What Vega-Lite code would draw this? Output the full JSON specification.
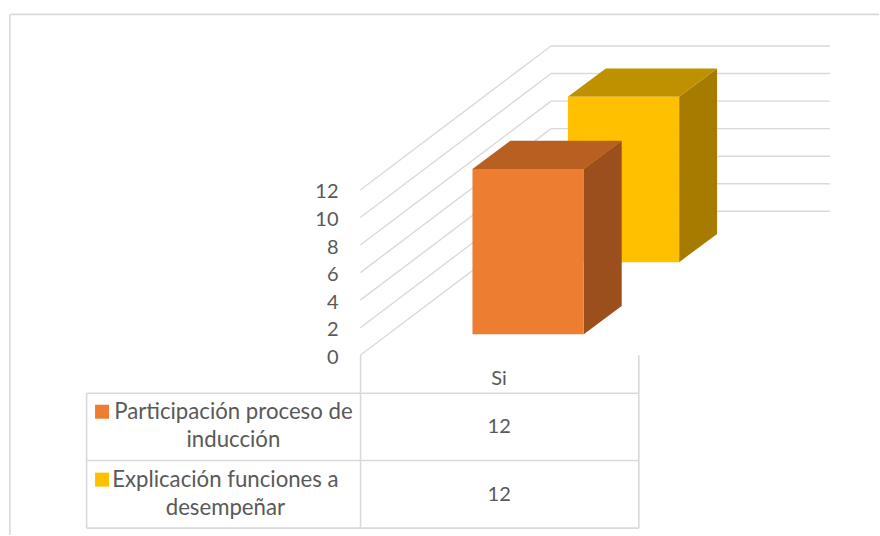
{
"$schema":"https://vega.github.io/schema/vega-lite/v6.json",
"width":880,"height":536,"padding":0,
"autosize":{"type":"fit","contains":"padding"},
"background":"white",
"config":{"view":{"stroke":null},"text":{"font":"Lato"}},
"datasets":{
"barras":[
{"serie":"Participación proceso de\ninducción","categoria":"Si","valor":12,"orden":0},
{"serie":"Explicación funciones a\ndesempeñar","categoria":"Si","valor":12,"orden":1}],
"marcas":[{"tick":0},{"tick":2},{"tick":4},{"tick":6},{"tick":8},{"tick":10},{"tick":12}],
"tablaH":[{"a":-0.9856,"b":1.003,"y":-2.76},{"a":-0.9856,"b":1.003,"y":-7.64},{"a":-0.9856,"b":1.003,"y":-12.55},{"a":-1.259,"b":1.868,"y":24.75}],
"tablaV":[{"x":-0.9856,"y":-2.76,"y2":-12.55},{"x":0.001,"y":0,"y2":-12.55},{"x":1.003,"y":0,"y2":-12.55},{"x":-1.262,"y":24.75,"y2":-13.05}]
},
"data":{"name":"barras"},
"transform":[
{"calculate":"0.404+0.3435*datum.orden","as":"x0"},
{"calculate":"datum.x0+0.4007","as":"x1"},
{"calculate":"1.52+5.24*datum.orden","as":"base"},
{"calculate":"datum.base+datum.valor","as":"tope"},
{"calculate":"[0,1]","as":"p"},
{"flatten":["p"]},
{"calculate":"datum.x0+0.1367*datum.p","as":"xa"},
{"calculate":"datum.x1+0.1367*datum.p","as":"xb"},
{"calculate":"datum.base+2.05*datum.p","as":"ya"},
{"calculate":"datum.tope+2.05*datum.p","as":"yb"}
],
"encoding":{},
"layer":[
{"data":{"name":"tablaH"},"mark":{"type":"rule","color":"#D9D9D9","strokeWidth":1.6},
 "encoding":{"x":{"field":"a","type":"quantitative","scale":{"domain":[-1.2975,1.868],"nice":false,"zero":false},"axis":null},"x2":{"field":"b"},
 "y":{"field":"y","type":"quantitative","scale":{"domain":[-13.05,25.79],"nice":false,"zero":false},"axis":{"values":[0,2,4,6,8,10,12],"title":null,"domain":false,"ticks":false,"grid":false,"labelPadding":0,"offset":-338,"labelOffset":2,"labelFont":"Lato","labelFontSize":20,"labelColor":"#595959"}}}},
{"data":{"name":"tablaV"},"mark":{"type":"rule","color":"#D9D9D9","strokeWidth":1.6},
 "encoding":{"x":{"field":"x","type":"quantitative"},"y":{"field":"y","type":"quantitative"},"y2":{"field":"y2"}}},
{"data":{"name":"marcas"},"transform":[{"calculate":"datum.tick+10.45","as":"fondo"}],"mark":{"type":"rule","color":"#D9D9D9","strokeWidth":1.4},
 "encoding":{"x":{"datum":0,"type":"quantitative"},"x2":{"datum":0.687},"y":{"field":"tick","type":"quantitative"},"y2":{"field":"fondo"}}},
{"data":{"name":"marcas"},"transform":[{"calculate":"datum.tick+10.45","as":"fondo"}],"mark":{"type":"rule","color":"#D9D9D9","strokeWidth":1.4},
 "encoding":{"x":{"datum":0.687,"type":"quantitative"},"x2":{"datum":1.691},"y":{"field":"fondo","type":"quantitative"}}},

{"transform":[{"filter":"datum.orden==1"}],"mark":{"type":"area","color":"#A67C00"},
 "encoding":{"x":{"field":"xb","type":"quantitative"},"y":{"field":"ya","type":"quantitative"},"y2":{"field":"yb"}}},
{"transform":[{"filter":"datum.orden==1"}],"mark":{"type":"area","orient":"horizontal","color":"#BF9000"},
 "encoding":{"y":{"field":"yb","type":"quantitative"},"x":{"field":"xa","type":"quantitative"},"x2":{"field":"xb"}}},
{"transform":[{"filter":"datum.orden==1 && datum.p==0"}],"mark":{"type":"rect"},
 "encoding":{"x":{"field":"xa","type":"quantitative"},"x2":{"field":"xb"},"y":{"field":"ya","type":"quantitative"},"y2":{"field":"yb"},
 "color":{"field":"serie","type":"nominal","scale":{"domain":["Participación proceso de\ninducción","Explicación funciones a\ndesempeñar"],"range":["#ED7D31","#FFC000"]},"legend":null}}},

{"transform":[{"filter":"datum.orden==0"}],"mark":{"type":"area","color":"#9A4F1C"},
 "encoding":{"x":{"field":"xb","type":"quantitative"},"y":{"field":"ya","type":"quantitative"},"y2":{"field":"yb"}}},
{"transform":[{"filter":"datum.orden==0"}],"mark":{"type":"area","orient":"horizontal","color":"#B85F22"},
 "encoding":{"y":{"field":"yb","type":"quantitative"},"x":{"field":"xa","type":"quantitative"},"x2":{"field":"xb"}}},
{"transform":[{"filter":"datum.orden==0 && datum.p==0"}],"mark":{"type":"rect"},
 "encoding":{"x":{"field":"xa","type":"quantitative"},"x2":{"field":"xb"},"y":{"field":"ya","type":"quantitative"},"y2":{"field":"yb"},
 "color":{"field":"serie","type":"nominal","legend":null}}},

{"transform":[{"filter":"datum.p==0"},{"calculate":"-4.1-4.93*datum.orden","as":"yLeyenda"}],"mark":{"type":"point","shape":"square","filled":true,"size":196,"opacity":1},
 "encoding":{"x":{"datum":-0.93,"type":"quantitative"},"y":{"field":"yLeyenda","type":"quantitative"},"color":{"field":"serie","type":"nominal","legend":null}}},
{"transform":[{"filter":"datum.p==0"},{"calculate":"-4.13-4.95*datum.orden","as":"yTexto"},{"calculate":"datum.orden==0?-0.457:-0.4858","as":"xTexto"}],
 "mark":{"type":"text","font":"Lato","fontSize":22.2,"color":"#595959","lineBreak":"\n","lineHeight":28,"align":"center","baseline":"middle"},
 "encoding":{"x":{"field":"xTexto","type":"quantitative"},"y":{"field":"yTexto","type":"quantitative"},"text":{"field":"serie"}}},
{"transform":[{"filter":"datum.p==0"},{"calculate":"-5.2-4.93*datum.orden","as":"yValor"}],
 "mark":{"type":"text","font":"Lato","fontSize":20,"color":"#595959","align":"center","baseline":"middle"},
 "encoding":{"x":{"datum":0.5,"type":"quantitative"},"y":{"field":"yValor","type":"quantitative"},"text":{"field":"valor","type":"quantitative"}}},
{"transform":[{"filter":"datum.p==0 && datum.orden==0"}],
 "mark":{"type":"text","font":"Lato","fontSize":20,"color":"#595959","align":"center","baseline":"middle"},
 "encoding":{"x":{"datum":0.5,"type":"quantitative"},"y":{"datum":-1.74,"type":"quantitative"},"text":{"field":"categoria"}}}
]
}
